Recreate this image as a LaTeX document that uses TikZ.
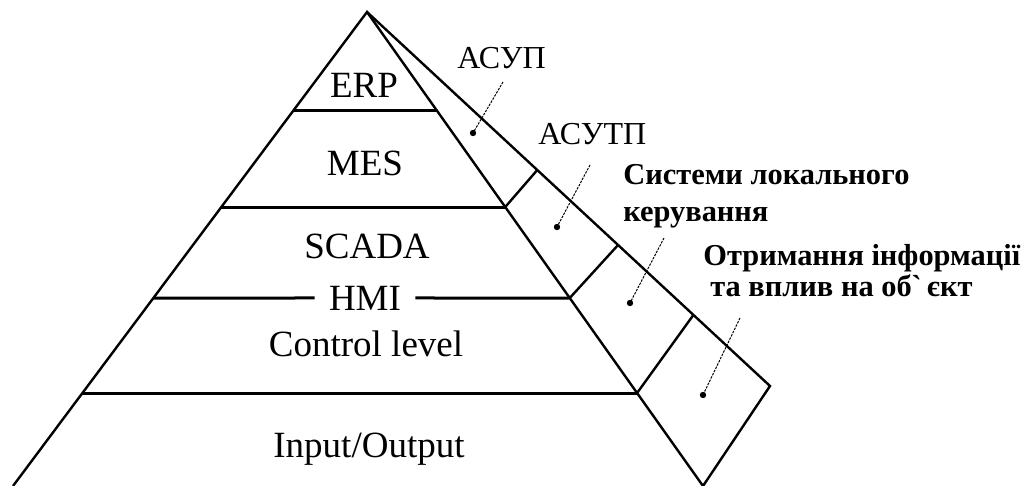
\documentclass[tikz,border=0pt]{standalone}
\usepackage{fontspec}
\setmainfont{Liberation Serif}
\usepackage{tikz}
\usetikzlibrary{calc}
\tikzstyle{side} = [line width=1.2pt]
\tikzstyle{layer} = [line width=1.5pt]
\tikzstyle{pointer} = [line width=0.5pt, dash pattern=on 1.2pt off 0.6pt]
\tikzstyle{dot} = [circle, fill, inner sep=0pt, minimum size=3.2pt]
\tikzstyle{lvl} = [font=\fontsize{18.5}{22}\selectfont, inner sep=0pt]
\tikzstyle{sys} = [font=\fontsize{16}{19}\selectfont, inner sep=0pt, anchor=base west]
\tikzstyle{sysb} = [font=\fontsize{15.2}{18.5}\selectfont\bfseries, inner sep=0pt, anchor=base west, align=left]

\begin{document}
\begin{tikzpicture}[x=0.5pt,y=-0.5pt]
\useasboundingbox (0,0) rectangle (1034,486);

% Pyramid corners
\coordinate (top) at (367,12);
\coordinate (bl) at (13,486);
\coordinate (br) at (703,486);
\coordinate (sc) at (770,386);

% Sides
\draw[side] (bl) -- (top) -- (br);

% Level names
\node[lvl] (erp) at (364,85) {ERP};
\node[lvl] (mes) at (365,163) {MES};
\node[lvl] (scada) at (367,246) {SCADA};
\node[lvl, inner xsep=7pt] (hmi) at (365,298) {HMI};
\node[lvl, anchor=base] (ctrl) at (366,357) {Control level};
\node[lvl, anchor=base] (io) at (369,457) {Input/Output};

% Level lines
\draw[layer] ($(top)!0.2068!(bl)$) -- ($(top)!0.2068!(br)$);
\draw[layer] ($(top)!0.4114!(bl)$) -- ($(top)!0.4114!(br)$);
\draw[layer] ($(top)!0.6034!(bl)$) -- (hmi.west);
\draw[layer] (hmi.east) -- ($(top)!0.6034!(br)$);
\draw[layer] ($(top)!0.8038!(bl)$) -- ($(top)!0.8038!(br)$);

% Side strip
\draw[side] (top) -- (sc) -- (br);
\draw[side] ($(top)!0.4114!(br)$) -- ($(top)!0.4225!(sc)$);
\draw[side] ($(top)!0.6034!(br)$) -- ($(top)!0.623!(sc)$);
\draw[side] ($(top)!0.8038!(br)$) -- ($(top)!0.810!(sc)$);

% Strip labels
\node[sys] (asup) at (457,69) {АСУП};
\node[sys] (asutp) at (538,145) {АСУТП};
\node[sysb] (local) at (623,222) {Системи локального\\керування};
\node[sysb] (obj) at (703,297) {Отримання інформації\\[-3pt]\hspace{3.5pt}та вплив на обˋ\,єкт};

% Pointers
\node[dot] (d1) at (473,133) {};
\node[dot] (d2) at (557,227) {};
\node[dot] (d3) at (630,303) {};
\node[dot] (d4) at (703,395) {};
\coordinate (p1) at (503,82);
\coordinate (p2) at (590,165);
\coordinate (p3) at (664,238);
\coordinate (p4) at (740,318);
\draw[pointer] (p1) -- (d1.center);
\draw[pointer] (p2) -- (d2.center);
\draw[pointer] (p3) -- (d3.center);
\draw[pointer] (p4) -- (d4.center);
\end{tikzpicture}
\end{document}
